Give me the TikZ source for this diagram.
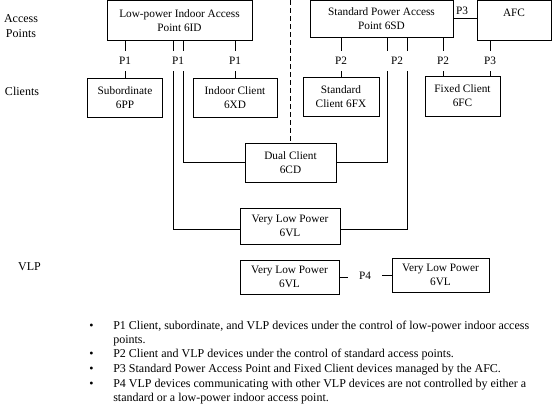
\documentclass[tikz,border=0pt]{standalone}
\usepackage{fontspec}
\setmainfont{Liberation Serif}
\usetikzlibrary{positioning}
\tikzset{
	box/.style={draw, line width=0.7pt, align=center, inner sep=1pt, font=\fontsize{11.3}{14}\selectfont},
	plab/.style={inner xsep=1pt, inner ysep=6pt, font=\fontsize{11.3}{14}\selectfont},
	rowlab/.style={align=center, inner sep=0pt, font=\fontsize{12}{15}\selectfont},
	itemline/.style={anchor=base west, inner sep=0pt, font=\fontsize{12}{14.4}\selectfont},
}
\begin{document}
\begin{tikzpicture}[x=1pt, y=-1pt, line width=0.6pt]
	\useasboundingbox (0,0) rectangle (553,407);
	\node[rowlab] (lap) at (21,26) {Access\\Points};
	\node[rowlab] (lcl) at (22,91) {Clients};
	\node[rowlab] (lvl) at (29.5,267) {VLP};
	% access points and AFC
	\node[box, minimum width=145pt, minimum height=39.5pt] (lpi) at (179.5,20.25) {Low-power Indoor Access\\Point 6ID};
	\node[box, minimum width=143pt, minimum height=36.5pt] (spd) at (381.5,18.75) {Standard Power Access\\Point 6SD};
	\node[box, minimum width=74pt, minimum height=39.5pt] (afc) at (514,20.25) {AFC\\~};
	% clients
	\node[box, minimum width=75pt, minimum height=39pt] (sub) at (125,97.5) {Subordinate\\6PP};
	\node[box, minimum width=84pt, minimum height=39pt] (icl) at (235,97.5) {Indoor Client\\6XD};
	\node[box, minimum width=76pt, minimum height=39pt] (scl) at (341,96.5) {Standard\\Client 6FX};
	\node[box, minimum width=75pt, minimum height=40pt] (fcl) at (462.5,96) {Fixed Client\\6FC};
	\node[box, minimum width=91pt, minimum height=39pt] (dual) at (290.5,162.5) {Dual Client\\6CD};
	\node[box, minimum width=100pt, minimum height=36pt] (vlu) at (290,226) {Very Low Power\\6VL};
	% VLP
	\node[box, minimum width=99pt, minimum height=34pt] (vla) at (289.5,277) {Very Low Power\\6VL};
	\node[box, minimum width=97pt, minimum height=34pt] (vlb) at (440.5,275) {Very Low Power\\6VL};
	% link labels
	\node[plab] (pa) at (125,61) {P1};
	\node[plab] (pb) at (178,61) {P1};
	\node[plab] (pc) at (235,61) {P1};
	\node[plab] (pd) at (341,61) {P2};
	\node[plab] (pe) at (397,61) {P2};
	\node[plab] (pf) at (443,61) {P2};
	\node[plab] (pg) at (490,61) {P3};
	\node[plab, inner ysep=1pt] (ph) at (462,11) {P3};
	\node[plab, inner xsep=11pt] (p4) at (365,276) {P4};
	\coordinate (xa) at (173,0);
	\coordinate (xb) at (183,0);
	\coordinate (xc) at (387,0);
	\coordinate (xd) at (407,0);
	\coordinate (top) at (0,0);
	% links
	\draw (lpi.south -| pa) -- (pa) -- (sub);
	\draw (lpi.south -| pc) -- (pc) -- (icl);
	\draw (lpi.south -| xa) -- (pb.north -| xa) (pb.south -| xa) |- ([yshift=-3pt]vlu.west);
	\draw (lpi.south -| xb) -- (pb.north -| xb) (pb.south -| xb) |- (dual.west);
	\draw (spd.south -| pd) -- (pd) -- (scl);
	\draw (spd.south -| xc) -- (pe.north -| xc) (pe.south -| xc) |- (dual.east);
	\draw (spd.south -| xd) -- (pe.north -| xd) (pe.south -| xd) |- ([yshift=-3pt]vlu.east);
	\draw (spd.south -| pf) -- (pf) -- (pf |- fcl.north);
	\draw (afc.south -| pg) -- (pg) -- (pg |- fcl.north);
	\draw (spd.east) -- (spd.east -| afc.west);
	\draw[dash pattern=on 5pt off 3pt] (dual.north |- top) -- (dual.north);
	\draw (vla.east) -- (vla.east -| p4.west);
	\draw (vlb.west -| p4.east) -- (vlb.west);
	% notes
	\foreach \y in {329,357,372,387} \node[itemline] (dot\y) at (89,\y) {\textbullet};
	\node[itemline] (ta) at (113,329) {P1 Client, subordinate, and VLP devices under the control of low-power indoor access};
	\node[itemline] (tb) at (113,343) {points.};
	\node[itemline] (tc) at (113,357) {P2 Client and VLP devices under the control of standard access points.};
	\node[itemline] (td) at (113,372) {P3 Standard Power Access Point and Fixed Client devices managed by the AFC.};
	\node[itemline] (te) at (113,387) {P4 VLP devices communicating with other VLP devices are not controlled by either a};
	\node[itemline] (tf) at (113,401) {standard or a low-power indoor access point.};
\end{tikzpicture}
\end{document}
